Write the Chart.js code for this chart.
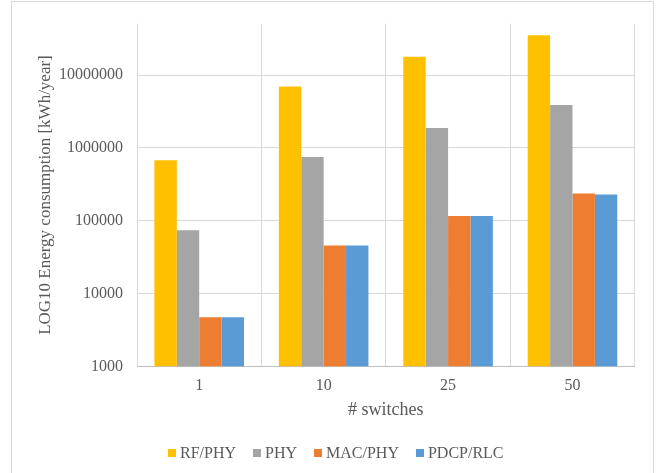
<!DOCTYPE html>
<html>
<head>
<meta charset="utf-8">
<script src="https://cdn.jsdelivr.net/npm/chart.js@4"></script>
<style>
  html, body { margin: 0; padding: 0; background: #fff; }
  #wrap { position: relative; width: 657px; height: 473px; overflow: hidden; }
  #frame { position: absolute; left: 11px; top: 1px; width: 641px; height: 500px; border: 1px solid #d9d9d9; pointer-events: none; }
  canvas { position: absolute; left: 0; top: 0; }
  #legend { position: absolute; left: 168px; top: 443px; display: flex; align-items: center;
            font: 16px "Liberation Serif", "Times New Roman", serif; line-height: 19px; color: #595959; }
  #legend .item { display: flex; align-items: center; margin-right: 17px; }
  #legend .box { width: 8px; height: 8px; margin-right: 4px; }
</style>
</head>
<body>
<div id="wrap">
  <canvas id="energy-chart" width="657" height="473"></canvas>
  <div id="frame"></div>
  <div id="legend"></div>
</div>
<script>
const categories = ['1', '10', '25', '50'];
const seriesNames = ['RF/PHY', 'PHY', 'MAC/PHY', 'PDCP/RLC'];
const rfPhy = [677000, 7000000, 17900000, 35300000];
const phy = [74500, 753000, 1880000, 3880000];
const macPhy = [4730, 46000, 116000, 237000];
const pdcpRlc = [4730, 46000, 116000, 229000];
const yTicks = [1000, 10000, 100000, 1000000, 10000000];

const colors = ['#FFC000', '#A5A5A5', '#ED7D31', '#5B9BD5'];
const textColor = '#595959';
const serif = '"Liberation Serif", "Times New Roman", serif';

const values = [rfPhy, phy, macPhy, pdcpRlc];
const datasets = values.map((data, i) => ({
  label: seriesNames[i],
  data: data,
  backgroundColor: colors[i],
  barPercentage: 1,
  categoryPercentage: 0.72
}));

const ctx = document.getElementById('energy-chart').getContext('2d');
const chart = new Chart(ctx, {
  type: 'bar',
  data: { labels: categories, datasets: datasets },
  options: {
    responsive: false,
    animation: false,
    layout: { padding: { top: 20.5, right: 22.3, bottom: 46.5, left: 0 } },
    plugins: { legend: { display: false }, tooltip: { enabled: false } },
    scales: {
      x: {
        grid: { color: '#d9d9d9', drawTicks: false, offset: true },
        border: { color: '#bfbfbf' },
        ticks: { color: textColor, font: { family: serif, size: 16 }, padding: 10 },
        title: {
          display: true, text: '# switches', color: textColor,
          font: { family: serif, size: 18 }, padding: { top: 0, bottom: 5 }
        },
        afterFit: (scale) => { scale.height = 60; }
      },
      y: {
        type: 'logarithmic',
        min: 1000,
        max: 51000000,
        grid: { color: '#d9d9d9', drawTicks: false },
        border: { display: false },
        ticks: {
          color: textColor, font: { family: serif, size: 16 }, padding: 14,
          callback: (v) => String(v)
        },
        afterBuildTicks: (scale) => { scale.ticks = yTicks.map(v => ({ value: v })); },
        title: {
          display: true, text: 'LOG10 Energy consumption [kWh/year]', color: textColor,
          font: { family: serif, size: 17 }, padding: { top: 35, bottom: 0 }
        },
        afterFit: (scale) => { scale.width = 137; }
      }
    }
  }
});

// Legend below the chart, built from the same series names and colours
const legend = document.getElementById('legend');
seriesNames.forEach((name, i) => {
  const item = document.createElement('div');
  item.className = 'item';
  const box = document.createElement('span');
  box.className = 'box';
  box.style.background = colors[i];
  const label = document.createElement('span');
  label.textContent = name;
  item.appendChild(box);
  item.appendChild(label);
  legend.appendChild(item);
});
</script>
</body>
</html>
